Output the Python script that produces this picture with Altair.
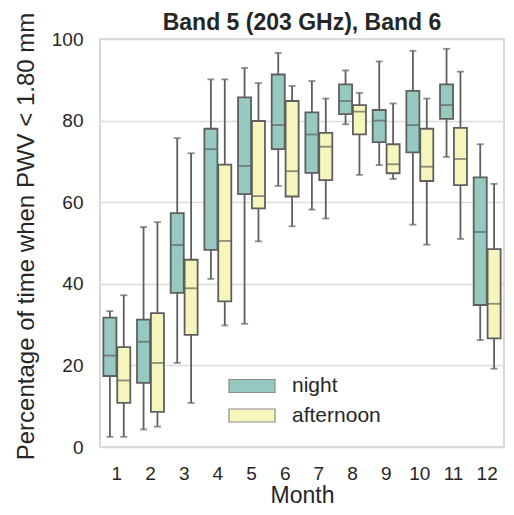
import altair as alt
import pandas as pd

months = list(range(1, 13))
groups = ["night", "afternoon"]

night_lo  = [2.5, 4.3, 20.6, 41.2, 30.2, 64.0, 58.2, 79.1, 69.1, 54.5, 71.1, 26.2]
night_q1  = [17.4, 15.7, 37.8, 48.3, 62.0, 73.0, 67.2, 81.6, 74.7, 72.2, 80.4, 34.8]
night_med = [22.4, 25.8, 49.5, 73.0, 68.9, 78.9, 76.6, 84.8, 80.0, 78.9, 83.8, 52.7]
night_q3  = [31.7, 31.2, 57.3, 78.0, 85.7, 91.3, 82.0, 88.9, 82.6, 87.3, 88.9, 66.1]
night_hi  = [33.3, 53.9, 75.7, 90.1, 92.9, 96.6, 89.7, 92.3, 94.5, 97.1, 97.6, 74.2]

aft_lo  = [2.5, 5.0, 10.8, 29.8, 50.4, 54.1, 56.0, 66.7, 65.7, 49.6, 51.0, 19.2]
aft_q1  = [10.8, 8.6, 27.5, 35.7, 58.5, 61.4, 65.4, 76.6, 67.1, 65.2, 64.2, 26.6]
aft_med = [16.3, 20.6, 38.9, 50.5, 61.5, 67.6, 73.6, 82.2, 69.3, 68.7, 70.6, 35.1]
aft_q3  = [24.5, 32.8, 45.9, 69.2, 79.9, 84.8, 77.0, 83.8, 74.2, 78.0, 78.2, 48.5]
aft_hi  = [37.2, 55.1, 72.0, 90.1, 89.2, 88.5, 85.4, 86.8, 84.2, 85.4, 92.0, 64.5]

rows = []
for i, m in enumerate(months):
    rows.append(dict(month=m, group="night", lo=night_lo[i], q1=night_q1[i],
                     med=night_med[i], q3=night_q3[i], hi=night_hi[i]))
    rows.append(dict(month=m, group="afternoon", lo=aft_lo[i], q1=aft_q1[i],
                     med=aft_med[i], q3=aft_q3[i], hi=aft_hi[i]))
df = pd.DataFrame(rows)

edge = "#5f5f5f"
FONT = "Liberation Sans"
PLOT_W = 404
PLOT_H = 408

x = alt.X("month:O", title="Month",
          scale=alt.Scale(paddingInner=0.2, paddingOuter=0.1),
          axis=alt.Axis(labelAngle=0, ticks=False, domain=False, grid=False,
                        labelPadding=17, labelFontSize=19, titleFontSize=23,
                        labelColor="#262626", titleColor="#262626",
                        titleFontWeight="normal", titleY=55,
                        titleBaseline="alphabetic"))
xo = alt.XOffset("group:N", sort=groups, scale=alt.Scale(paddingInner=0.06, paddingOuter=0))
ysc = alt.Scale(domain=[0, 100], nice=False)

base = alt.Chart(df).encode(x=x, xOffset=xo)

whisk = base.mark_rule(color=edge, strokeWidth=1.8).encode(
    y=alt.Y("lo:Q", scale=ysc,
            title="Percentage of time when PWV < 1.80 mm",
            axis=alt.Axis(values=[0, 20, 40, 60, 80, 100], ticks=False, domain=False,
                          grid=True, gridColor="#dcdcdc", gridWidth=1.3,
                          labelPadding=17, labelFontSize=19, titleFontSize=24,
                          labelColor="#262626", titleColor="#262626",
                          titleFontWeight="normal", titleX=-67, titleY=197,
                          titleBaseline="alphabetic")),
    y2="hi:Q")

box = base.mark_bar(stroke=edge, strokeWidth=1.8, opacity=1).encode(
    y=alt.Y("q1:Q", scale=ysc),
    y2="q3:Q",
    color=alt.Color("group:N", sort=groups,
                    scale=alt.Scale(domain=groups, range=["#96cac1", "#f5f5bc"]),
                    legend=alt.Legend(title=None, orient="none", legendX=139.5, legendY=334.5,
                                      symbolType="M-2,-0.565L2,-0.565L2,0.565L-2,0.565Z",
                                      symbolSize=529, symbolStrokeColor="#8a8a8a",
                                      symbolStrokeWidth=1.2, labelFontSize=21,
                                      labelColor="#262626", labelOffset=27.5,
                                      rowPadding=6.5, padding=0)))

med = base.mark_tick(color=edge, thickness=1.8, size=13).encode(
    y=alt.Y("med:Q", scale=ysc))
cap_lo = base.mark_tick(color=edge, thickness=1.8, size=7).encode(
    y=alt.Y("lo:Q", scale=ysc))
cap_hi = base.mark_tick(color=edge, thickness=1.8, size=7).encode(
    y=alt.Y("hi:Q", scale=ysc))

chart = alt.layer(whisk, box, med, cap_lo, cap_hi).properties(
    width=PLOT_W, height=PLOT_H,
    title=alt.TitleParams("Band 5 (203 GHz), Band 6", fontSize=23, fontWeight="bold",
                          color="#262626", offset=0, dy=22.5, anchor="middle", frame="group"),
    autosize=alt.AutoSizeParams(type="none"),
    padding={"left": 92, "top": 31, "right": 2, "bottom": 60},
).configure(font=FONT).configure_view(stroke="#cccccc", strokeWidth=1.5)

chart.save("out.html", embed_options={"renderer": "svg", "actions": False})
